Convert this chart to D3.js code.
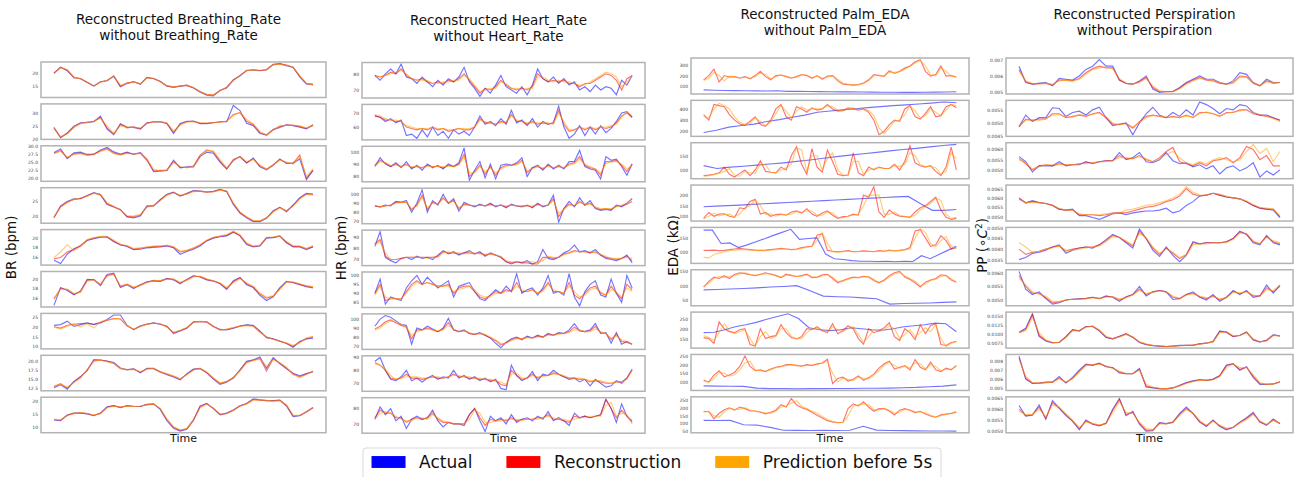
<!DOCTYPE html>
<html>
<head>
<meta charset="utf-8">
<script src="https://cdn.jsdelivr.net/npm/d3@7"></script>
<style>
  body { margin: 0; background: #fff; }
  svg { display: block; font-family: "DejaVu Sans", sans-serif; }
</style>
</head>
<body>
<div id="chart"></div>
<script>
// ---- Breathing rate (bpm) ----
const brTicks = [["15","20"],["20","25","30"],["20.0","22.5","25.0","27.5","30.0"],["20","25","30"],["16","18","20","22"],["14","16","18","20"],["10","15","20","25"],["12.5","15.0","17.5","20.0"],["10","15","20"]];
const brActual = [
  [20,22.4,21,18.5,17.9,16.5,15,16.7,17.1,19,14.8,16,16.8,15.7,18.3,18,16.8,15,14.5,15,15.3,14.3,12.6,11.5,11.2,13.4,14.3,17.5,19,21.2,21.3,21,21.5,23.5,23.8,23,22.4,18.6,15.9,15.7],
  [24.4,20.3,22.2,24.9,26.2,26.2,26.6,28.8,23.7,21.5,25.8,24.5,24.4,23.7,26.2,26.5,26.5,25.9,22,25.9,26.8,26.8,25.9,25.9,26.2,26.6,26.6,33,31,26,25.1,22,21.5,23.5,24.4,25.4,25.1,24.5,23.8,25.4],
  [28,29.1,26.1,27.9,28.1,27.4,27.4,28.8,29.6,28.2,27.5,28.1,27.4,28,25.9,22,22.2,22.4,25.6,23.2,23.5,23.5,26.8,28.1,27.8,25,22.8,25.5,26.8,24.7,26.3,23.5,22.6,24,26,24.6,24.7,26,19.5,22.4],
  [19.4,23.5,25,25.9,26,27.1,28.1,27.3,24,23.1,22.3,19.7,19.4,20,23.5,23.5,25.6,27.5,28.2,26.9,27.8,28.8,28.6,28.3,28.5,29.2,28.5,24,21,19.4,18.1,18.1,19.2,21.8,23,21.5,23.8,26.3,27.8,27.6],
  [15.2,14.5,16.5,17.7,18.3,19.5,19.9,20.2,20.3,19.2,18.6,18.2,17.5,17.6,17.9,18,18.1,18.3,17.9,16.5,17.1,17.6,18.3,19.4,20,20.3,20.5,21.3,20.5,18.6,18.1,18.3,20,20.1,20.5,19,18.1,18.1,17.5,18.1],
  [14.5,18.2,17.6,16.7,17.5,19.9,19.8,18.6,20.9,21.2,18.2,18.8,18,18.8,19.4,19.6,19.5,20.1,19.8,19,19.9,20.7,20.4,19.8,19.6,19,17.8,19.6,20.3,18.8,18.2,16.6,15.5,16.3,18.2,19.5,19.2,18.8,18.4,18.1],
  [20.9,21.3,23.1,20.4,21.3,22.2,21.3,22.2,24,26.3,26.3,21,18.7,20.5,21.5,22.2,21.5,20.5,16.7,18,19.4,22.8,22.8,22.8,20.5,18.8,18.5,19.4,20.5,21.2,20.9,18,14.5,13.9,12.8,11.5,9.5,12.5,13.8,14.3],
  [12.7,13.5,12.3,14.4,15.7,17.3,20.3,20.1,19.9,19.5,18,17.5,17.8,16.7,17.9,17.9,17,16.2,15.6,14.8,16.5,17.7,17.9,16.7,15,13.6,14.2,15.3,17.5,19.8,20.2,21,17.9,20.8,19.2,17.8,16.6,15.9,16.5,17],
  [12.7,12.4,14.6,15.3,15.3,15,14.3,15.3,17.7,18.1,17.4,18.1,17.9,17.8,18.6,18.8,16.7,12.4,9.6,8.5,9.2,12.5,18,19,17,14.6,15.3,16.5,18.1,18.9,20.7,20.3,20,20,20.2,18,14,14.3,15.8,17.4]
];
const brRecon = [
  [20.2,22.3,21.3,18.2,18,16.4,15.1,16.6,17.2,18.8,15,16.3,16.6,15.9,18.4,17.9,16.9,15.1,14.7,15,15.4,14.4,12.9,11.8,11.6,13.2,14.6,17.3,19.2,21,21.4,21.1,21.3,23.3,23.7,23.2,22.3,18.9,16,15.6],
  [24,20.6,22,24.5,26,26.5,26.8,28.2,24.2,21.8,25.5,24.2,24.6,23.9,26,26.6,26.7,26,22.5,25.6,26.6,26.9,26.1,26,26.3,26.5,26.8,29.5,30.2,26.8,25.5,22.4,21.2,23.6,24.8,25.3,25.2,24.8,24,25.2],
  [27.8,28.6,26.3,27.6,27.8,27.2,27.5,28.5,29.2,27.8,27.3,27.9,27.6,27.8,25.5,22.3,22.4,22.5,25.2,23.4,23.3,23.8,27.2,28.8,28.2,25.3,23,25.8,26.6,24.8,26,23.8,22.8,24.2,25.8,24.8,24.6,27.2,20,22.5],
  [19.6,23.2,24.8,25.7,26.1,26.9,27.9,27.4,24.3,23.2,22.1,19.9,19.8,20.3,23.2,23.6,25.5,27.3,28.1,27,27.6,28.6,28.5,28.2,28.4,29,28.4,24.3,21.2,19.6,18.3,18.3,19.4,21.6,23,21.7,23.6,26.1,27.6,27.4],
  [15.5,15.8,17,17.5,18.4,19.6,20,20.3,20.2,19.4,18.5,18.3,17.6,17.8,18,18.2,18.2,18.4,18,17,17.3,17.8,18.5,19.5,20.1,20.4,20.6,21.4,20.6,18.8,18.2,18.4,20.1,20.2,20.4,19.1,18.2,18.2,17.7,18.2],
  [15.8,18,17.8,16.8,17.3,19.7,19.9,18.8,20.7,21,18.4,18.9,18.2,18.7,19.3,19.7,19.6,20,19.9,19.2,19.8,20.5,20.5,19.9,19.5,19.1,18,19.4,20.2,19,18.3,16.9,16,16.4,18,19.4,19.3,18.9,18.5,18.3],
  [20.2,19.5,21,21.5,21.8,22,21.5,22.5,23.5,24.5,24.2,20.5,18.8,20.6,21.6,22.1,21.6,20.2,17,18.2,19.6,22.6,22.9,22.6,20.2,18.6,18.8,19.6,20.6,21,20.6,17.5,14.8,13.8,12.6,11.6,10,12.2,14,15],
  [13,13.8,12.6,14.2,15.5,17.5,20,20.2,19.8,19.3,17.8,17.6,17.7,16.9,17.8,17.8,16.9,16.4,15.8,15,16.3,17.6,17.8,16.8,15.2,13.9,14.4,15.4,17.4,19.6,20.1,20.6,17.2,20.5,19.3,18,16.4,15.6,16.4,17.1],
  [12.9,12.6,14.5,15.2,15.4,15.1,14.5,15.2,17.5,18,17.5,18,17.8,17.9,18.5,18.7,16.9,12.8,9.9,8.8,9.4,12.8,17.6,18.8,17.1,14.8,15.2,16.4,18,18.8,20.4,20.2,20,19.9,20.1,18.2,14.3,14.4,15.7,17.3]
];
const brPred = [
  [19.8,22.2,21.5,18.6,17.8,16.6,15.2,16.5,17.3,18.9,15.4,16.1,16.7,15.8,18.2,18.1,16.8,15.2,14.6,15.1,15.3,14.5,12.8,11.7,11.5,13.3,14.5,17.2,19.1,21.1,21.2,21.2,21.4,23.4,23.6,23.1,22.5,19.1,16.1,15.4],
  [24.2,20.8,21.8,24.2,25.8,26.3,26.7,28,25,22,25,24.6,24.3,24.2,25.8,26.4,26.6,26.2,23,25.2,26.4,26.6,26.3,26.1,26.2,26.4,26.9,29,30.4,27.5,25.8,22.8,21.5,23.2,25,25.2,25.3,25,24.2,25],
  [27.6,28.3,26.6,27.4,27.6,27.1,27.3,28.3,29,27.6,27.2,27.7,27.5,27.7,26,22.8,22.2,22.5,24.8,23.7,23.2,23.6,26.5,28.6,28.5,25.8,23.2,25.4,26.8,25.2,25.8,24.2,22.7,24,25.6,25,24.4,26.8,20.5,23],
  [19.8,23,24.6,25.8,26.2,26.8,27.8,27.5,24.6,23.4,22,20.2,20,20.6,23,23.7,25.3,27.2,28,27.2,27.5,28.4,28.6,28.3,28.3,28.9,28.6,24.6,21.5,19.8,18.5,18.4,19.2,21.4,22.8,21.9,23.4,25.9,27.4,27.2],
  [15.8,17,18.6,17.3,18.2,19.7,20.1,20.4,20.4,19.6,18.7,18.4,17.8,17.9,18.1,18.3,18.3,18.5,18.2,17.2,17.4,17.9,18.6,19.6,20.2,20.5,20.8,21.5,20.8,19,18.3,18.5,20.2,20.3,20.5,19.3,18.4,18.3,17.8,18.4],
  [16,17.8,17.9,17,17.2,19.5,19.8,18.9,20.5,20.9,18.6,18.8,18.3,18.6,19.2,19.6,19.7,19.9,20,19.3,19.7,20.4,20.6,20,19.6,19.2,18.2,19.2,20,19.2,18.5,17.1,16.2,16.5,17.8,19.3,19.4,19,18.6,18.4],
  [20,19,20.5,21.8,20,21.8,19.5,22.8,23.8,24.3,24.4,20.8,19,20.4,21.4,22,21.8,20,17.4,18.4,19.8,22.4,23,22.8,20.4,18.4,19,19.8,20.4,20.8,20.4,17.2,15,13.6,12.8,11.8,10.5,11.8,14.5,15.2],
  [13.2,13.6,12.9,14,15.3,17.6,19.8,20.1,19.7,19.2,17.9,17.5,17.6,17,17.7,17.9,17,16.5,15.9,15.2,16.1,17.4,17.9,17,15.4,14,14.3,15.5,17.2,19.4,20,20.4,18.5,20.2,19.5,18.2,16.2,15.4,16.2,17.2],
  [13,12.8,14.3,15.1,15.5,15.2,14.6,15.1,17.3,17.9,17.6,17.9,17.8,18,18.4,18.6,17.1,13.2,10.2,9,9.5,12.4,17.2,18.6,17.3,15,15.1,16.3,17.9,18.7,20.2,20.3,20.1,19.8,20,18.5,14.6,14.5,15.6,17.5]
];

// ---- Heart rate (bpm) ----
const hrTicks = [["70","80"],["50","60","70"],["80","90","100"],["70","80","90","100"],["70","80","90"],["85","90","95","100"],["70","80","90","100"],["70","80","90"],["70","80"]];
const hrActual = [
  [79,76,80,83,80,86,78,77,74,78,75,72,76,73,77,75,78,84,75,71,66,71,68,73,79,72,70,68,72,67,73,83,77,75,78,74,77,73,75,70,72,69,73,70,72,71,67,76,73,79],
  [68,67,64,66,63,65,54,55,52,58,53,60,54,57,52,58,55,57,54,60,68,62,64,61,66,62,72,63,65,61,66,60,64,62,63,75,60,52,55,61,54,60,55,61,56,59,64,70,71,67],
  [88,95,90,88,91,87,92,86,89,85,90,87,89,86,90,88,91,103,77,85,92,79,90,78,89,90,89,91,95,80,87,89,85,90,86,89,86,92,92,101,88,86,85,78,96,93,94,88,81,90],
  [87,86,88,87,92,91,93,80,90,105,80,93,88,100,90,95,81,91,88,86,89,87,90,86,88,85,89,87,86,88,85,90,86,88,99,69,84,92,86,96,88,93,84,82,83,82,88,86,90,95],
  [82,95,72,69,67,71,72,70,73,71,72,70,74,78,75,77,74,76,78,75,77,73,76,74,72,68,66,68,67,69,66,68,79,71,70,72,76,78,83,77,78,76,79,74,71,70,69,71,74,67],
  [90,98,84,88,87,86,93,97,100,95,99,96,93,95,97,88,94,95,96,91,87,86,89,92,90,94,91,101,90,92,93,89,93,100,90,91,89,101,88,83,91,95,97,89,88,98,90,85,100,93],
  [92,100,104,102,98,94,93,72,90,88,92,89,86,90,101,88,86,88,84,83,85,82,79,73,68,74,78,80,77,81,79,82,80,84,82,85,84,88,95,87,86,88,95,84,85,73,85,72,75,72],
  [87,90,80,73,72,75,80,72,74,71,74,76,73,75,74,80,74,76,73,75,72,74,71,73,66,65,84,76,72,74,79,72,77,76,80,77,75,73,74,71,73,68,73,70,67,68,72,70,74,81],
  [73,81,76,80,72,75,67,73,75,73,74,79,72,68,71,70,70,69,76,80,72,65,75,72,74,70,76,71,73,74,72,75,73,78,72,74,72,69,77,74,75,74,75,76,86,80,71,83,75,72]
];
const hrRecon = [
  [79,78,79,81,80,83,79,77,76,77,75,74,75,74,76,75,77,80,76,72,68,71,70,72,76,73,71,70,71,70,72,80,77,75,76,75,76,74,74,72,74,74,76,78,80,79,76,70,77,79],
  [68,67,65,65,64,64,60,59,58,59,58,60,58,59,57,58,59,58,58,60,66,63,63,62,64,63,69,64,64,62,64,62,63,62,63,72,62,57,58,60,58,60,58,60,59,60,63,68,70,67],
  [89,93,91,88,90,88,90,87,88,87,89,88,88,87,89,88,90,98,80,84,89,82,88,81,87,89,89,90,93,83,87,88,86,89,87,88,87,90,91,96,89,87,86,81,92,92,93,89,84,90],
  [87,86,87,88,91,91,91,83,88,99,83,91,89,96,90,93,84,89,88,87,88,87,89,87,88,86,88,87,87,87,86,89,87,88,95,75,84,89,87,92,88,90,85,83,84,83,87,87,89,92],
  [84,88,73,70,70,71,72,72,72,72,72,72,73,77,76,76,75,76,76,75,76,74,75,74,72,68,67,68,67,67,66,66,72,72,71,72,75,76,78,77,77,76,77,74,72,71,70,71,73,69],
  [90,95,86,87,87,87,91,95,97,95,96,95,94,94,95,90,93,94,94,91,88,87,89,91,90,92,91,96,91,91,92,90,92,96,91,91,90,96,89,87,90,93,94,90,89,94,90,87,95,92],
  [89,92,97,99,96,93,91,78,88,88,90,88,86,89,96,88,86,87,84,83,84,82,79,76,71,74,77,79,78,80,79,81,80,83,82,84,84,86,91,87,86,87,92,85,84,77,83,75,74,72],
  [86,84,80,74,73,74,77,74,74,73,74,75,74,74,75,77,75,75,74,74,73,73,72,72,69,68,80,76,73,74,77,74,76,76,78,77,75,74,74,73,73,71,72,71,70,70,71,71,74,80],
  [74,79,77,77,74,74,71,73,74,73,74,77,73,71,71,70,70,70,76,80,74,69,73,72,73,72,74,72,73,73,73,74,74,76,73,73,72,71,75,74,75,74,75,76,86,80,74,79,75,71]
];
const hrPred = [
  [78,78,79,80,81,82,80,77,76,76,76,74,74,75,75,76,76,79,77,73,69,70,71,71,75,74,71,71,70,71,71,78,78,76,75,76,75,75,74,73,73,75,77,79,81,80,78,72,75,79],
  [69,68,66,65,65,64,61,60,59,59,59,60,59,59,58,58,59,59,59,60,65,64,63,62,63,64,68,65,64,63,63,63,63,63,62,70,64,58,58,60,59,60,59,60,60,61,62,67,71,68],
  [88,92,91,89,89,88,89,88,88,87,88,88,88,88,88,88,89,96,83,83,88,84,87,83,86,88,89,89,92,85,86,88,87,88,87,88,87,89,90,94,90,88,86,83,90,92,92,90,86,89],
  [88,86,87,88,90,91,91,84,87,97,85,90,89,95,91,92,85,88,88,87,88,87,88,87,88,87,88,87,87,87,87,88,87,88,93,79,83,88,88,91,89,89,86,84,84,84,86,88,90,96],
  [83,86,76,70,70,70,72,72,72,72,71,72,72,76,77,76,76,75,76,76,75,75,75,74,73,69,68,68,68,68,68,67,69,73,72,72,74,76,77,77,77,77,76,75,73,71,71,71,72,71],
  [89,94,88,87,87,87,90,94,96,95,96,95,94,94,94,91,92,93,94,92,89,88,88,90,90,91,91,94,92,91,92,90,91,95,92,91,90,94,91,88,89,92,93,91,89,92,91,88,93,91],
  [88,90,95,98,97,94,91,82,86,88,89,88,87,88,93,89,86,87,85,83,84,83,80,77,73,73,76,78,78,79,79,80,80,82,82,83,84,85,88,88,86,86,89,86,84,79,81,77,75,72],
  [85,84,81,76,73,74,75,75,75,74,74,75,75,74,75,76,76,75,75,74,74,73,73,72,71,69,77,78,74,74,76,75,75,76,77,77,76,74,74,74,73,72,72,72,71,70,71,71,73,80],
  [73,77,78,77,75,73,72,72,74,74,73,76,74,72,71,70,70,70,73,79,77,71,71,72,72,73,73,73,72,73,73,73,74,75,74,73,73,72,73,74,74,75,75,75,82,84,75,77,76,70]
];

// ---- Palm EDA (kOhm) ----
const edaTicks = [["100","200","300"],["200","300","400"],["100","150"],["100","150","200","250"],["100","150"],["50","100","150"],["100","150","200","250"],["50","100","150","200","250"],["50","100","150","200","250"]];
const edaActual = [
  [66,62,60,58,57,56,55,57,52,51,50,49,48,47,46,45,44,43,43,42,42,43,44,45,48],
  [190,210,238,252,265,288,305,326,345,370,382,392,402,412,420,430,436,444,452,462,455],
  [115,105,110,113,117,121,125,130,135,141,147,152,157,162,167,172,176,181,186,190],
  [145,148,150,153,156,159,162,165,168,171,174,177,180,183,186,189,192,194,160,128,128,132],
  [178,178,130,132,115,125,136,147,159,170,181,145,148,150,92,75,72,68,66,66,65,66,64,66,65,86,75,90,105,120],
  [85,86.5,88,90,92,95,97,100,82,63,61,60,57,54,35,37,38,39,41,43],
  [180,182,195,210,220,232,248,262,276,252,205,195,190,195,205,200,195,192,200,210,215,220,228,225,185],
  [77,76,75,74,64,61,61,60,61,61,62,62,63,63,64,66,68,72,76,83],
  [120,119,120,92,90,75,57,56,55,56,55,57,82,58,55,54,53,52,52,51]
];
const edaRecon = [
  [160,200,260,140,200,185,190,175,190,170,200,240,190,160,200,205,190,175,190,210,200,175,200,165,195,200,150,120,115,110,115,130,160,210,200,195,245,220,240,270,290,330,350,240,195,210,290,195,200,185],
  [350,300,440,430,420,350,300,265,255,290,330,260,245,300,400,440,330,300,420,400,370,410,390,400,440,400,380,385,410,400,390,400,370,300,170,200,260,300,290,400,430,330,310,360,420,330,340,420,440,410],
  [80,82,85,90,110,85,75,88,100,80,100,132,95,92,90,110,100,150,182,120,85,175,110,92,170,130,85,80,82,160,90,80,110,100,110,105,105,120,100,130,185,125,115,110,115,95,80,110,180,100],
  [90,118,100,110,112,100,95,140,135,170,180,110,118,100,108,110,105,120,125,115,135,110,100,115,125,105,90,98,100,110,105,200,190,240,120,95,130,110,100,98,95,120,140,150,170,190,130,95,85,90],
  [105,105,106,104,105,108,110,112,110,108,106,105,106,108,110,112,110,108,110,115,118,120,160,165,105,102,100,102,104,100,101,103,102,100,104,102,106,103,105,108,115,175,180,150,120,125,158,140,110,115],
  [95,115,130,125,135,125,140,145,142,138,135,140,145,140,135,128,140,135,132,135,140,128,130,138,140,125,110,118,125,130,128,133,130,118,110,120,135,145,150,130,122,110,95,112,120,125,138,135,120,112],
  [155,150,125,235,200,185,180,195,200,120,112,200,150,160,165,220,180,155,148,160,200,195,210,190,180,225,175,190,215,200,150,122,200,180,190,205,230,160,140,200,180,145,220,175,215,225,120,115,130,135],
  [110,100,140,165,130,140,155,190,250,190,165,170,160,175,185,190,200,200,195,192,200,195,205,210,232,90,120,128,105,115,135,110,125,145,180,205,220,175,185,195,170,230,185,170,215,170,160,180,170,195],
  [178,175,130,165,188,200,185,205,195,180,180,172,162,172,185,220,205,260,220,200,190,172,152,135,118,110,105,108,195,225,212,238,205,178,195,195,180,155,185,195,185,170,178,160,148,140,155,160,165,172]
];
const edaPred = [
  [155,175,230,200,150,195,190,180,185,175,190,225,210,170,190,205,195,180,185,205,205,180,195,175,185,200,165,130,118,112,112,125,150,195,205,195,230,230,235,260,285,315,345,290,210,200,270,240,195,190],
  [330,320,400,450,430,400,330,280,260,270,320,290,250,280,360,430,380,320,380,420,390,400,400,400,430,420,390,385,400,410,395,400,385,340,230,180,230,290,300,350,430,380,320,340,400,370,340,390,440,430],
  [78,80,83,88,95,105,82,78,95,90,88,120,118,92,90,100,108,120,178,170,95,150,150,100,140,160,100,82,80,130,130,85,100,105,108,106,105,115,112,120,160,150,118,112,113,108,85,95,160,140],
  [88,100,115,102,108,110,98,110,140,150,178,150,110,112,100,108,108,110,122,120,125,125,105,105,120,115,95,92,100,105,108,150,200,200,200,110,110,120,105,100,96,105,130,145,160,185,175,110,90,95],
  [80,78,90,95,100,104,106,108,108,106,105,104,104,106,108,110,110,108,108,112,116,120,140,170,130,100,98,100,103,100,100,102,102,101,102,103,104,104,104,106,110,150,182,170,130,118,140,155,120,112],
  [98,108,125,132,128,133,135,142,145,140,136,138,142,142,136,130,136,138,132,133,138,132,128,134,138,130,115,115,122,128,128,130,132,122,112,116,130,140,146,135,125,115,100,105,118,122,132,136,124,114],
  [165,155,140,180,225,190,175,185,195,150,110,160,185,150,160,200,200,160,150,150,180,200,200,195,185,210,195,185,200,210,170,130,160,195,185,195,215,200,150,170,195,160,180,205,185,220,150,110,125,135],
  [105,98,120,155,150,135,140,170,210,220,170,165,162,170,182,188,195,200,198,193,196,198,200,208,220,150,100,122,115,108,128,122,118,138,165,195,215,195,180,190,180,210,205,175,200,190,165,172,175,190],
  [172,178,150,140,175,195,192,190,200,188,180,175,168,165,178,205,212,230,245,210,195,180,165,145,125,112,106,105,150,210,220,225,220,190,185,198,185,165,172,190,188,175,172,168,152,142,150,158,165,180]
];

// ---- Perspiration, values in units of 1e-4 degC^2 ----
const ppUnit = 1e-4;
const ppTicks = [["0.005","0.006","0.007"],["0.0045","0.0050","0.0055"],["0.0050","0.0055","0.0060"],["0.0050","0.0055","0.0060","0.0065"],["0.0035","0.0040","0.0045","0.0050"],["0.0050","0.0055","0.0060"],["0.0075","0.0100","0.0125","0.0150"],["0.005","0.006","0.007","0.008"],["0.0050","0.0055","0.0060","0.0065"]];
const ppActual = [
  [66,56,55,55.5,56,54,58.5,58,57.5,60,64,66,70,66,66,57.5,55.5,55,57,60,52,50,50.5,50.5,53,56,58,60,58,58,56,55,57,62,61,56,54,58,56,56],
  [48.6,53,50.5,52,52,55.8,55.5,52.5,54,54.5,53,55,56,52,49,49.5,50,45.5,50,53.5,56,53,52,54,52.5,55,53,58,57,55.5,53.5,55.5,55,57,56.5,54,53,53,52,51],
  [56.5,54,49,52,52,52,54,52,52.5,52.5,54,53,54,54.5,54.5,58.5,55,56,58.5,54,53.5,55,58.5,54.5,53,53.5,51.5,52.5,50.5,52,48,51,52,49.5,51,53.5,46.5,49.5,47.5,50],
  [60,57.2,58.5,57.5,57,56,54,53.5,54,50.5,50.5,49.5,48.5,50,51.5,52,51,52,52.5,53,53,53.5,54.5,52,53,56,58,61,61.5,62.5,61.5,60.5,60,59.5,58,56,54.5,54,53.5,49.5],
  [35,36,38,38.5,39.5,41,42,38,39.5,40.5,41,40.5,42,44.5,47,45.5,43,40.5,49.5,45,39.5,36.5,41,37,34,37,43.5,42.5,43,43,43,43.5,45,48.5,47,43,42,46.5,43,42],
  [60.5,54,52,53,50.5,48.5,49,50,50.3,50.5,50.5,51,50.5,51.5,51,49.5,51.2,52,55,51.5,53,53.5,53,50.2,50.5,52,53,51,50,52,49.5,51,53.5,52,53.5,51,51.5,55.5,52.5,55.5],
  [104,115,155,93,80,75,76,92,111,108,120,120,108,90,86,93,100,90,76,70,67,66,65,66,68,68,68,72,74,79,108,104,92,96,105,83,77,82,97,94],
  [86,60,55,55.5,56.5,56.5,63,55.5,62,70,77,75.5,78,74,73,67,66,66,72,51,50,49,49,50,53,56,58,59.5,58.5,60,64,76,77.5,70,74,62,54,54,54.5,57],
  [61.7,56.8,57.2,62,55.3,64,60.5,57,54.5,50.4,55,53,52.3,53.5,60,65,57,59,53,49.8,50,53.8,53.3,54,58,61,58,54,52,55,52,50.4,51.5,54,56,58.5,54,52.5,55.5,53.3]
];
const ppRecon = [
  [64,56.5,55,55.5,55.5,54.5,57.5,57.5,57,58.5,62,64.5,66,65,65,57.5,55.5,55,56.5,59,53,50.5,50.3,50.5,52.5,55.5,57.5,59,57.5,57,55.5,55,56,60,59.5,55.5,54,57,55.5,56],
  [48.5,51.5,51,51.5,51.5,53.5,53.5,52,52.5,53,52.5,53.5,54,52,49.5,49.5,49.8,48,50.5,52.5,53,52.5,52,52.5,52,53,52,54,54,53.5,52.5,54,54,55,55,53.5,53,52.5,52,51],
  [55.5,53,50,52,52.5,52,53,52.5,52.5,53,53.5,53.5,54,54.5,54.5,57,55.5,55.5,57,55,54,56,59,61,54,53,52,53.5,52,54.5,55,56,53.5,56,61.5,60,55,57,52,52],
  [59.5,57.5,58,57.5,57,56,54,53.5,53.5,51,51,51,50.5,51,52,52,52,53,54,55,55.5,56.5,58,59,61,65,62,61,61.5,62.5,61.5,60.5,60,59.5,58,56,54.5,54,54,50],
  [40,37.5,38.5,39,40,41,41.5,39,40,40.5,41,41,42,44,46.5,45.5,43.5,41.5,48.5,45,40.5,37.5,40.5,38,35.5,37.5,43,42.5,43,43,43,43.5,45,48,47,43.5,42.5,46,43.5,42.5],
  [59,55,52.5,52.5,50.8,49,49.3,50,50.3,50.3,50.6,51,50.5,51.3,51.2,50,51,52,54,52,53,53.5,53,51,50.5,52,52.5,51.2,50.5,51.5,50,51,53.2,52.3,53.2,51.5,51.5,54.5,53,55],
  [103,112,152,96,81,76,76,91,110,108,119,121,109,91,86,92,99,91,77,71,68,66,65,66,67,68,69,72,74,78,106,105,93,95,104,84,78,81,96,94],
  [84,61,55.5,55.5,56,56.5,61.5,56,61,69,76,76,77.5,74.5,72.5,68,66,66,71,52,50.5,49.5,49,50,52.5,55.5,57.5,59,58.5,59.5,63.5,75,77,71,73.5,63,55,54,54.5,56.5],
  [60,57,57.5,61,55.8,63,60.5,57.5,54.5,51,54.5,53.2,52.5,53.4,59.5,64.5,57.5,58.5,53.5,50.3,50.3,53.5,53.2,54,57.5,60.3,58,54.3,52.3,54.7,52.3,50.8,51.6,53.8,55.6,58,54.2,52.8,55,53.3]
];
const ppPred = [
  [63,57,55.5,55,55.5,55,57,57.5,57,58,61,64,65,65.5,64.5,58.5,55.5,55,56,58.5,54,51,50.5,50.3,52,55,57,58.5,58,57,56,55,55.5,59,59.5,56,54.2,56.5,55.8,56],
  [48.8,51,51.2,51,51.5,53,53.2,52.2,52.2,53.2,52.8,53.2,53.8,52.5,50,49.2,49.8,48.5,50.2,52,52.8,52.8,52.2,52.2,52.2,52.6,52.3,53.5,54.2,53.6,52.7,53.6,54.2,54.5,55.2,53.8,53.2,52.6,51.6,50.5],
  [55,53.5,50.5,51.5,52.5,52.5,52.5,52.5,52.5,53,53,53.5,54,54,54.5,56,56,55.5,56.5,55.5,54,55.5,57.5,59,56,53.5,52.5,54,53,55,56,55,54,55,59,62.5,58,60.5,54,59],
  [59,57.5,57.5,57.5,57,56,54.5,53.5,53.5,51.5,51,51,51,51.5,51.5,52,53.5,54,55,56,56.5,57.5,58.5,60,62,66,63,61.5,61.5,62.5,62,61,60,59.5,58.5,56.5,55,54.5,54,50.5],
  [43,41,38.5,39,40,40.5,41.5,39.5,39.5,40,40.5,41,41.5,43.5,46,45.5,44,42,47.5,45.5,41,38,40,38.5,36,37,42,42.5,42.5,43,43,43,44.5,47.5,47.5,44,42.5,45.5,44,43],
  [58,55.5,53,52,51.5,49.5,49.5,50,50.3,50.3,50.5,50.8,50.6,51,51.2,50.5,50.8,51.8,53.5,52.5,52.8,53.3,53,51.5,50.6,51.8,52.3,51.5,50.8,51.2,50.5,50.8,52.8,52.6,53,51.8,51.3,53.8,53.5,55.5],
  [103,108,145,102,83,76,76,89,108,109,118,121,111,93,87,91,98,92,78,72,68,67,65,66,67,68,69,71,74,77,102,106,95,95,103,86,78,80,95,95],
  [82,63,56,55.5,56,56.5,60,57,60,68,75,76.5,77,75,72,69,66.5,66,70,54,51,49.5,49.2,50,52,55,57,58.5,58.8,59,62.5,73,77,73,73,65,56,54,54.2,56.8],
  [59,57.5,57.6,60,56.5,62,61,58,55,51.5,54,53.4,52.6,53.2,58.5,63.5,58.5,58,54,51,50.5,53,53.3,53.8,57,59.8,58.3,54.8,52.6,54.3,52.6,51.2,51.6,53.5,55.2,57.5,54.6,53,54.6,53.6]
];

const seriesNames = ["Actual", "Reconstruction", "Prediction before 5s"];
const seriesColors = ["#0000ff", "#ff0000", "#ffa500"];

document.addEventListener('DOMContentLoaded', function() {
    const width = 1304;
    const height = 477;

    const svg = d3.select("#chart")
        .append("svg")
        .attr("width", width)
        .attr("height", height);

    const columns = [
        { title: ["Reconstructed Breathing_Rate", "without Breathing_Rate"], left: 41, right: 326, top: 62, pitch: 41.9, h: 35.5, titleY: 24, labelX: 16,
          unit: 1, ticks: brTicks, series: [brActual, brRecon, brPred] },
        { title: ["Reconstructed Heart_Rate", "without Heart_Rate"], left: 362, right: 645, top: 62.5, pitch: 41.9, h: 35.5, titleY: 25, labelX: 346,
          unit: 1, ticks: hrTicks, series: [hrActual, hrRecon, hrPred] },
        { title: ["Reconstructed Palm_EDA", "without Palm_EDA"], left: 691, right: 969, top: 58, pitch: 42.35, h: 36, titleY: 19, labelX: 678,
          unit: 1, ticks: edaTicks, series: [edaActual, edaRecon, edaPred] },
        { title: ["Reconstructed Perspiration", "without Perspiration"], left: 1006, right: 1293, top: 58, pitch: 42.35, h: 36, titleY: 19, labelX: 987,
          unit: ppUnit, ticks: ppTicks, series: [ppActual, ppRecon, ppPred] }
    ];

    columns.forEach((c, ci) => {
        const x = d3.scaleLinear().domain([-0.05, 1.05]).range([c.left, c.right]);
        const cx = (c.left + c.right) / 2;

        c.series[0].forEach((_, i) => {
            const top = c.top + i * c.pitch;
            const bottom = top + c.h;
            const all = c.series[0][i].concat(c.series[1][i], c.series[2][i]);
            const [lo, hi] = d3.extent(all);
            const pad = (hi - lo) * 0.05;
            const y = d3.scaleLinear().domain([lo - pad, hi + pad]).range([bottom, top]);

            const g = svg.append("g");

            c.series.forEach((s, k) => {
                const arr = s[i];
                const n = arr.length;
                g.append("path")
                    .datum(arr)
                    .attr("d", d3.line().x((d, j) => x(j / (n - 1))).y(d => y(d)))
                    .attr("fill", "none")
                    .attr("stroke", seriesColors[k])
                    .attr("stroke-width", 1.15)
                    .attr("stroke-opacity", 0.55);
            });

            const labels = c.ticks[i].filter(t => {
                const v = parseFloat(t) / c.unit;
                return v >= y.domain()[0] && v <= y.domain()[1];
            });
            const axis = d3.axisLeft(y)
                .tickValues(labels.map(t => parseFloat(t) / c.unit))
                .tickFormat((d, k) => labels[k])
                .tickSize(0)
                .tickPadding(3);
            const ag = g.append("g")
                .attr("transform", `translate(${c.left},0)`)
                .call(axis);
            ag.select(".domain").remove();
            ag.selectAll("text")
                .style("font-size", "4.5px")
                .style("font-family", "DejaVu Sans, sans-serif")
                .style("fill", "#444");

            g.append("rect")
                .attr("x", c.left)
                .attr("y", top)
                .attr("width", c.right - c.left)
                .attr("height", c.h)
                .attr("fill", "none")
                .attr("stroke", "#b3b3b3")
                .attr("stroke-width", 1.5);
        });

        // title, centred a little left of the panel
        c.title.forEach((line, li) => {
            svg.append("text")
                .attr("x", cx - 5)
                .attr("y", c.titleY + li * 16)
                .attr("text-anchor", "middle")
                .style("font-size", "13.5px")
                .style("fill", "#111")
                .text(line);
        });

        // x label
        svg.append("text")
            .attr("x", cx)
            .attr("y", 442)
            .attr("text-anchor", "middle")
            .style("font-size", "11px")
            .style("fill", "#111")
            .text("Time");

        // y label
        const midY = c.top + (8 * c.pitch + c.h) / 2;
        const yl = svg.append("text")
            .attr("transform", `translate(${c.labelX},${midY}) rotate(-90)`)
            .attr("text-anchor", "middle")
            .style("font-size", "13.5px")
            .style("fill", "#111");
        if (ci === 0) yl.text("BR (bpm)");
        if (ci === 1) yl.text("HR (bpm)");
        if (ci === 2) yl.text("EDA (k\u03A9)");
        if (ci === 3) {
            yl.append("tspan").text("PP (\u2218");
            yl.append("tspan").style("font-style", "italic").text("C");
            yl.append("tspan").attr("dy", -5).style("font-size", "9px").text("2");
            yl.append("tspan").attr("dy", 5).text(")");
        }
    });

    // legend
    const legend = svg.append("g");
    const fs = 17;
    const box = legend.append("rect")
        .attr("fill", "#fff")
        .attr("stroke", "#d9d9d9")
        .attr("stroke-width", 1)
        .attr("rx", 3);
    let lx = 0;
    const items = seriesNames.map((name, k) => {
        const it = legend.append("g");
        it.append("rect")
            .attr("x", lx).attr("y", -fs * 0.35 - 6)
            .attr("width", 2 * fs).attr("height", 0.7 * fs)
            .attr("fill", seriesColors[k]);
        const t = it.append("text")
            .attr("x", lx + 2.8 * fs)
            .attr("y", 0)
            .style("font-size", fs + "px")
            .style("fill", "#111")
            .text(name);
        lx += 2.8 * fs + t.node().getComputedTextLength() + 2 * fs;
        return it;
    });
    const contentW = lx - 2 * fs;
    const startX = width / 2 - contentW / 2;
    const baseY = 468;
    items.forEach(it => it.attr("transform", `translate(${startX},${baseY})`));
    box.attr("x", startX - 0.5 * fs)
        .attr("y", 448)
        .attr("width", contentW + fs)
        .attr("height", 40);
});
</script>
</body>
</html>
